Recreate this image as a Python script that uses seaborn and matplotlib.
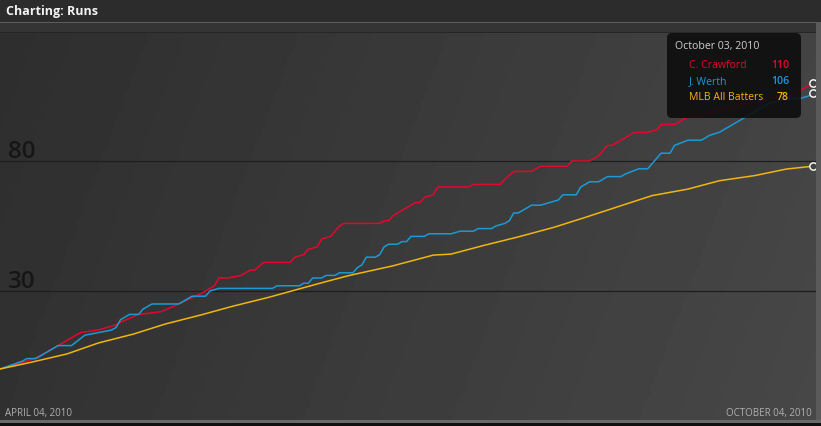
import numpy as np
import pandas as pd
import matplotlib
matplotlib.use("Agg")
import matplotlib.pyplot as plt
import seaborn as sns
from matplotlib.patches import Rectangle, FancyBboxPatch
from matplotlib.transforms import IdentityTransform


W, H = 821, 427

TITLE = "Charting: Runs"
PLAYERS = ["C. Crawford", "J. Werth", "MLB All Batters"]
COLORS = ["#e5062d", "#1b9ad6", "#f0b70a"]

# days since April 04, 2010 -> cumulative runs
CRAWFORD_DAY = [0, 6, 9, 11, 13, 18, 22, 26, 27, 31, 36, 40, 45, 48, 49, 51, 54, 56, 57, 59,
                65, 66, 68, 69, 71, 72, 74, 76, 77, 85, 86, 87, 88, 93, 94, 95, 97, 98, 105, 106,
                112, 113, 115, 119, 121, 127, 128, 132, 134, 136, 137, 142, 145, 147, 148, 151,
                154, 158, 162, 167, 172, 177, 179, 181, 182]
CRAWFORD_RUNS = [0, 3, 5, 7, 9, 14, 15, 17, 18, 21, 22, 25, 29, 32, 35, 35, 36, 38, 38, 41,
                 41, 43, 44, 46, 47, 50, 51, 55, 56, 56, 57, 57, 59, 64, 64, 66, 67, 70, 70, 71,
                 71, 73, 76, 76, 78, 78, 80, 80, 82, 86, 86, 91, 91, 92, 94, 94,
                 97, 98, 100, 102, 104, 105, 107, 109, 110]

WERTH_DAY = [0, 5, 6, 8, 10, 13, 16, 19, 22, 25, 26, 27, 29, 31, 32, 34, 40, 43, 46, 47,
             49, 61, 62, 67, 68, 69, 70, 72, 73, 75, 76, 79, 80, 81, 82, 84, 85, 86, 87, 89,
             90, 91, 92, 95, 96, 101, 103, 106, 107, 110, 111, 113, 114, 115, 116, 118, 119,
             121, 123, 125, 126, 129, 130, 132, 134, 136, 139, 140, 143, 145, 147, 148, 150,
             151, 154, 157, 159, 161, 164, 166, 169, 172, 176, 179, 181, 182]
WERTH_RUNS = [0, 3, 4, 4, 6, 9, 9, 13, 14, 15, 16, 19, 21, 21, 23, 25, 25, 28, 28, 30,
              31, 31, 32, 32, 33, 33, 35, 35, 36, 36, 37, 37, 39, 40, 43, 43, 44, 47, 48, 48,
              49, 49, 51, 51, 52, 52, 53, 53, 54, 54, 55, 56, 57, 60, 60, 62, 63,
              63, 64, 65, 67, 67, 70, 72, 72, 74, 74, 75, 77, 77, 81, 83, 83,
              86, 88, 88, 90, 91, 94, 96, 99, 102, 104, 104, 105, 106]

MLB_DAY = [0, 7, 15, 22, 30, 37, 45, 52, 60, 71, 78, 88, 97, 101, 108, 116, 124, 131,
           139, 146, 154, 161, 169, 176, 182]
MLB_RUNS = [0, 2.6, 5.8, 10, 13.5, 17.3, 20.8, 24.1, 27.5, 32.7, 35.9, 39.7, 43.8, 44.2,
            47.4, 50.8, 54.5, 58.3, 62.8, 66.7, 69.2, 72.4, 74.4, 76.9, 78]

GRID_VALUES = [30, 80]
X_LABELS = ["APRIL 04, 2010", "OCTOBER 04, 2010"]
TOOLTIP_DATE = "October 03, 2010"
TOOLTIP_VALUES = [110, 106, 78]


def fx(px):
    return px / W


def fy(py):
    return 1 - py / H


def px_rect(fig, x0, y0, x1, y1, color):
    fig.patches.append(Rectangle((fx(x0), fy(y1)), fx(x1) - fx(x0), fy(y0) - fy(y1),
                                 transform=fig.transFigure, color=color, lw=0, zorder=0))


plt.rcParams["font.family"] = ["Open Sans", "DejaVu Sans"]

fig = plt.figure(figsize=(W / 100, H / 100), dpi=100, facecolor="#2c2c2c")

# frame pieces
px_rect(fig, 0, 23, W, 24, "#5c5c5c")
px_rect(fig, 0, 24, W, 33, "#343434")
px_rect(fig, 0, 33, W, 34, "#262626")
px_rect(fig, 816, 24, W, 424, "#5a5a5a")
px_rect(fig, 0, 421, W, 424, "#6a6a6a")
px_rect(fig, 0, 424, W, H, "#101010")

ax = fig.add_axes([0, fy(421), fx(816), fy(34) - fy(421)])

gx, gy = np.meshgrid(np.linspace(0, 1, 256), np.linspace(0, 1, 64))
shade = 0.18 + 0.085 * gx + 0.015 * gy
ax.imshow(shade, cmap="gray", vmin=0, vmax=1, extent=[0, 1, 0, 1],
          transform=ax.transAxes, aspect="auto", zorder=0)

for value in GRID_VALUES:
    ax.axhline(value, color="#1e1e1e", lw=0.9, zorder=1)
    ax.annotate(str(value), xy=(0, value), xycoords=("axes fraction", "data"),
                xytext=(8, 4), textcoords="offset pixels", va="baseline",
                fontsize=17.5, color="#161616", weight="semibold", zorder=2)

frames = []
for name, days, runs in zip(PLAYERS, [CRAWFORD_DAY, WERTH_DAY, MLB_DAY],
                            [CRAWFORD_RUNS, WERTH_RUNS, MLB_RUNS]):
    frames.append(pd.DataFrame({"day": days, "runs": runs, "player": name}))
df = pd.concat(frames, ignore_index=True)

sns.lineplot(data=df, x="day", y="runs", hue="player", hue_order=PLAYERS,
             palette=COLORS, linewidth=1.1, estimator=None, legend=False,
             ax=ax, zorder=3)

ends = df.groupby("player", sort=False).tail(1)
ax.scatter(ends["day"], ends["runs"], s=28, facecolor="#444444",
           edgecolor="white", linewidth=1.0, zorder=6, clip_on=False)

ax.set_xlim(0, 182 * 816 / 813)
ax.set_ylim((370 - 421) / 2.6, (370 - 34) / 2.6)
ax.set_axis_off()

# tooltip
tip = FancyBboxPatch((667, H - 119), 134, 85, boxstyle="round,pad=0,rounding_size=5",
                     transform=IdentityTransform(), facecolor="#0c0c0c",
                     edgecolor="none", alpha=0.88, zorder=10)
fig.patches.append(tip)
fig.text(fx(675), fy(46), TOOLTIP_DATE, va="center", fontsize=7.6,
         color="#cfcfcf", zorder=11)
for i, (name, color, value) in enumerate(zip(PLAYERS, COLORS, TOOLTIP_VALUES)):
    row_y = fy(66 + i * 15.5)
    fig.text(fx(689), row_y, name, va="center", fontsize=7.6, color=color, zorder=11)
    fig.text(fx(789), row_y, str(value), va="center", ha="right", fontsize=7.6,
             color=color, weight="semibold", zorder=11)

fig.text(fx(6), fy(12), TITLE, va="center", fontsize=9, weight="bold", color="#f4f4f4")
fig.text(fx(5), fy(414), X_LABELS[0], va="center", fontsize=7, color="#b0b0b0")
fig.text(fx(812), fy(414), X_LABELS[1], va="center", ha="right", fontsize=7,
         color="#b0b0b0")

fig.savefig("out.png", dpi=100, facecolor=fig.get_facecolor())
